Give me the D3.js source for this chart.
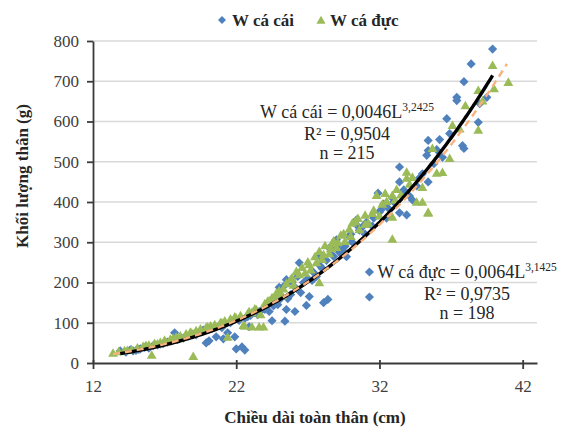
<!DOCTYPE html>
<html>
<head>
<meta charset="utf-8">
<script src="https://cdn.jsdelivr.net/npm/d3@7/dist/d3.min.js"></script>
<style>
  html, body { margin: 0; padding: 0; background: #fff; }
  svg { display: block; font-family: "Liberation Serif", "Times New Roman", serif; }
</style>
</head>
<body>
<svg id="chart" width="568" height="427"></svg>
<script>
/* ── data ── */
const xTicks = [12, 22, 32, 42];
const yTicks = [0, 100, 200, 300, 400, 500, 600, 700, 800];

// female: length (cm) / weight (g)
const femaleL = [13.9,14.3,14.6,15.0,15.3,15.6,15.9,16.2,16.5,16.9,17.2,17.7,17.5,17.9,18.3,18.7,19.0,19.4,19.7,19.9,20.1,20.3,20.6,20.8,21.1,21.2,21.4,21.6,21.9,22.0,22.2,22.4,22.6,22.6,22.9,23.0,
  23.3,23.5,23.8,24.1,24.3,24.5,24.7,24.9,25.0,25.3,25.4,25.5,25.5,25.6,25.9,26.1,26.3,26.4,26.5,26.9,27.1,27.3,27.6,27.8,28.0,28.1,28.4,28.5,28.7,28.9,29.0,29.0,29.4,29.7,29.9,30.1,
  30.4,30.4,30.8,31.0,31.3,31.3,31.6,31.9,32.0,32.3,32.6,32.9,33.4,33.4,33.4,33.9,34.3,34.6,35.0,35.3,35.4,35.4,35.4,35.8,36.4,36.7,36.9,37.4,37.4,37.8,37.9,37.9,38.4,38.9,39.0,39.5,39.9,
  24.0,24.6,25.1,25.8,26.2,26.7,27.0,27.4,27.9,28.3,28.8,29.2,29.6,30.0,30.6,31.1,31.5,32.1,32.5,33.0,33.7,34.1,34.8,36.0,36.2,19.2,18.0,16.7,15.2,21.0,22.8,23.6,14.8];
const femaleW = [30,27,33,31,35,39,37,43,45,48,52,75,55,58,62,67,71,76,82,50,55,86,65,92,60,96,75,100,65,35,106,40,32,111,90,118,
  125,120,132,140,128,105,150,145,188,190,104,207,133,160,200,128,215,249,175,143,165,205,215,264,235,150,158,286,282,294,306,289,281,264,314,300,
  356,343,338,320,226,164,360,422,375,395,385,410,487,450,373,368,405,440,470,516,553,528,450,495,511,607,570,660,652,540,533,699,743,598,644,660,780,
  133,142,160,170,185,200,210,225,240,255,265,275,290,320,330,350,340,380,360,400,430,415,460,530,555,70,60,47,34,88,115,128,30];

// male: length (cm) / weight (g)
const maleL = [13.4,13.8,14.2,14.7,15.1,15.5,15.9,16.1,16.3,16.7,17.0,17.4,17.8,18.1,18.5,18.8,19.0,19.2,19.5,19.9,20.2,20.5,20.9,21.2,21.4,21.6,21.9,22.3,22.5,22.6,22.8,
  23.1,23.1,23.4,23.6,23.7,23.9,24.0,24.2,24.5,24.8,25.0,25.2,25.5,25.8,26.0,26.2,26.6,26.8,27.0,27.2,27.5,27.8,27.8,28.0,28.2,28.5,28.7,28.8,29.0,29.3,29.6,29.9,30.1,
  30.3,30.6,31.0,31.2,31.5,31.8,32.0,32.4,32.5,32.9,32.9,32.9,33.2,33.5,33.9,33.9,34.3,34.6,35.0,35.0,35.4,35.4,35.7,36.0,36.4,36.9,37.1,37.6,38.0,38.9,38.9,39.2,39.9,40.0,41.0,
  22.0,22.9,23.3,24.3,24.7,25.3,25.9,26.4,27.1,27.6,28.1,28.6,29.1,29.5,30.0,30.5,31.0,31.6,32.2,33.1,34.1,16.5,17.6,18.9,20.0,21.0,14.4,15.7];
const maleW = [25,29,31,34,38,42,45,20,49,52,57,60,65,68,73,77,17,81,85,89,93,96,101,105,65,110,115,118,94,92,123,
  90,126,133,90,121,90,148,154,163,174,180,168,198,208,194,228,238,224,252,232,265,278,200,258,292,272,298,304,288,318,303,333,348,
  352,332,368,348,372,417,366,422,402,417,363,308,432,418,460,475,462,400,437,400,375,373,534,472,474,509,591,582,640,678,579,652,740,682,698,
  112,128,135,155,165,185,212,220,245,250,270,285,300,322,315,360,345,380,395,405,445,48,62,75,90,100,32,44];

// trendline equations as printed on the chart
const femaleFit = { a: 0.0046, b: 3.2425, from: 13.9, to: 39.9 };
const maleFit   = { a: 0.0064, b: 3.1425, from: 13.4, to: 40.9 };

/* ── scales ── */
const svg = d3.select("#chart");
const x = d3.scaleLinear().domain([12, 43]).range([93, 537]);
const y = d3.scaleLinear().domain([0, 800]).range([363, 41]);

const BLUE = "#4F81BD", GREEN = "#9BBB59", ORANGE = "#F7B27E";
const TXT = "#262626", TICK = "#404040", AXIS = "#3a3a3a";

/* ── grid ── */
svg.append("g").selectAll("line").data(yTicks.filter(d => d > 0)).join("line")
  .attr("x1", x(12)).attr("x2", x(43))
  .attr("y1", d => y(d)).attr("y2", d => y(d))
  .attr("stroke", "#d9d9d9").attr("stroke-width", 1.3);

/* ── axes ── */
const yAxis = svg.append("g").attr("transform", `translate(${x(12)},0)`)
  .call(d3.axisLeft(y).tickValues(yTicks).tickSize(6).tickSizeOuter(0).tickPadding(8));
const xAxis = svg.append("g").attr("transform", `translate(0,${y(0)})`)
  .call(d3.axisBottom(x).tickValues(xTicks).tickSize(6).tickSizeOuter(0).tickPadding(11));

[yAxis, xAxis].forEach(g => {
  g.select(".domain").attr("stroke", AXIS).attr("stroke-width", 1.8);
  g.selectAll(".tick line").attr("stroke", AXIS).attr("stroke-width", 1.8);
  g.selectAll(".tick text").attr("fill", TICK)
    .style("font-family", "'Liberation Serif', serif").style("font-size", "17px");
});
// x ticks cross the axis a little
xAxis.selectAll(".tick line").attr("y1", -3);

/* ── points ── */
const diamond = d3.symbol().type(d3.symbolSquare).size(42);
const triangle = d3.symbol().type(d3.symbolTriangle).size(42);

svg.append("g").selectAll("path").data(d3.range(femaleL.length)).join("path")
  .attr("d", diamond)
  .attr("transform", i => `translate(${x(femaleL[i])},${y(femaleW[i])}) rotate(45)`)
  .attr("fill", BLUE);

svg.append("g").selectAll("path").data(d3.range(maleL.length)).join("path")
  .attr("d", triangle)
  .attr("transform", i => `translate(${x(maleL[i])},${y(maleW[i]) + 1})`)
  .attr("fill", GREEN);

/* ── trendlines ── */
function fitPoints(f) {
  return d3.range(f.from, f.to + 0.001, 0.1).map(L => [L, f.a * Math.pow(L, f.b)]);
}
const line = d3.line().x(d => x(d[0])).y(d => y(d[1]));

svg.append("path").datum(fitPoints(femaleFit)).attr("d", line)
  .attr("fill", "none").attr("stroke", "#000").attr("stroke-width", 3.4);
svg.append("path").datum(fitPoints(maleFit)).attr("d", line)
  .attr("fill", "none").attr("stroke", ORANGE).attr("stroke-width", 2.4)
  .attr("stroke-dasharray", "7,5");

/* ── equation labels ── */
function eqLabel(cx, y0, name, fit, r2, n) {
  const t = svg.append("text").attr("x", cx).attr("y", y0)
    .attr("text-anchor", "middle").attr("fill", TXT).style("font-size", "18px");
  t.append("tspan").text(`${name} = ${String(fit.a).replace(".", ",")}L`);
  t.append("tspan").attr("dy", -7).style("font-size", "11.5px").text(String(fit.b).replace(".", ","));
  svg.append("text").attr("x", cx).attr("y", y0 + 22).attr("text-anchor", "middle")
    .attr("fill", TXT).style("font-size", "18px").text(`R² = ${r2}`);
  svg.append("text").attr("x", cx).attr("y", y0 + 41).attr("text-anchor", "middle")
    .attr("fill", TXT).style("font-size", "18px").text(`n = ${n}`);
}
eqLabel(347, 118, "W cá cái", femaleFit, "0,9504", 215);
eqLabel(467, 278, "W cá đực", maleFit, "0,9735", 198);

/* ── axis titles ── */
svg.append("text").attr("x", 315).attr("y", 423).attr("text-anchor", "middle")
  .attr("fill", TXT).style("font-size", "17px").style("font-weight", "bold")
  .text("Chiều dài toàn thân (cm)");
svg.append("text").attr("transform", "translate(28,176) rotate(-90)")
  .attr("text-anchor", "middle").attr("fill", TXT)
  .style("font-size", "17px").style("font-weight", "bold")
  .text("Khối lượng thân (g)");

/* ── legend ── */
const legend = svg.append("g");
legend.append("path").attr("d", diamond.size(32)())
  .attr("transform", "translate(222,20) rotate(45)").attr("fill", BLUE);
legend.append("text").attr("x", 232).attr("y", 26).attr("fill", TXT)
  .style("font-size", "17px").style("font-weight", "bold").text("W cá cái");
legend.append("path").attr("d", triangle.size(36)())
  .attr("transform", "translate(321,21)").attr("fill", GREEN);
legend.append("text").attr("x", 330).attr("y", 26).attr("fill", TXT)
  .style("font-size", "17px").style("font-weight", "bold").text("W cá đực");
</script>
</body>
</html>
